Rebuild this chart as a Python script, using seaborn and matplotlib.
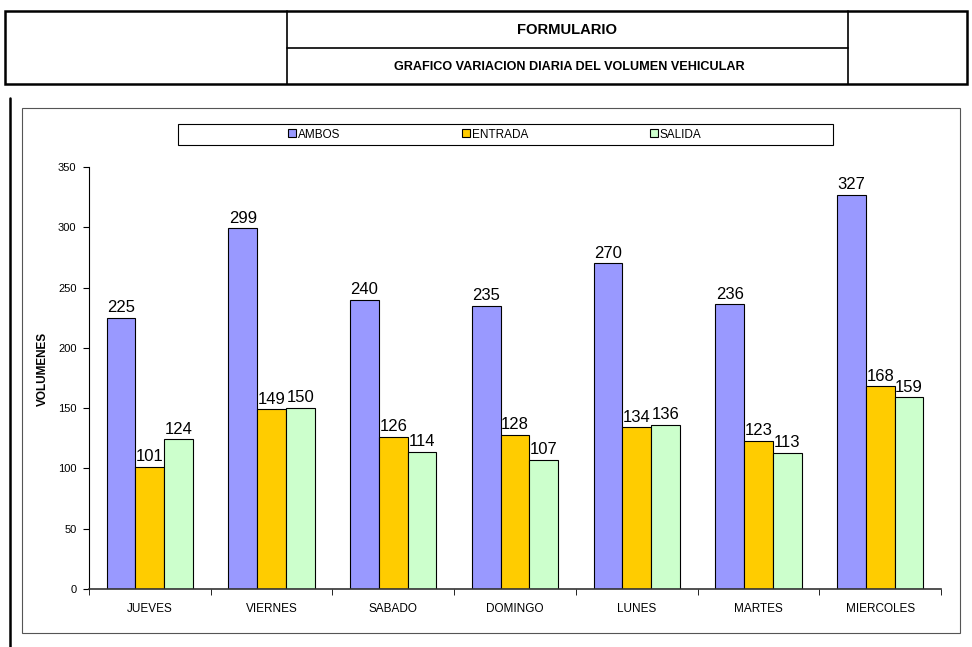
import pandas as pd
import matplotlib.pyplot as plt
import seaborn as sns
from matplotlib.patches import Rectangle, Patch
from matplotlib.lines import Line2D

# --- datos ---
dias = ['JUEVES', 'VIERNES', 'SABADO', 'DOMINGO', 'LUNES', 'MARTES', 'MIERCOLES']
ambos = [225, 299, 240, 235, 270, 236, 327]
entrada = [101, 149, 126, 128, 134, 123, 168]
salida = [124, 150, 114, 107, 136, 113, 159]
series = ['AMBOS', 'ENTRADA', 'SALIDA']
colores = ['#9999FF', '#FFCC00', '#CCFFCC']

df = pd.DataFrame({'dia': dias, 'AMBOS': ambos, 'ENTRADA': entrada, 'SALIDA': salida})
df_long = df.melt(id_vars='dia', var_name='tipo', value_name='volumen')

sns.set_style("white")
plt.rcParams['font.family'] = ['Liberation Sans', 'DejaVu Sans']
plt.rcParams['text.color'] = 'black'
plt.rcParams['axes.labelcolor'] = 'black'
plt.rcParams['xtick.color'] = 'black'
plt.rcParams['ytick.color'] = 'black'

W, H = 972, 647
fig = plt.figure(figsize=(W / 100, H / 100), dpi=100)


def fx(x):
    return x / W


def fy(y):
    return 1 - y / H


# --- encabezado (formulario) ---
fig.add_artist(Rectangle((fx(5), fy(84)), fx(962), (84 - 11) / H, fill=False,
                         edgecolor='black', linewidth=1.8, transform=fig.transFigure))
for xv in [287, 848]:
    fig.add_artist(Line2D([fx(xv), fx(xv)], [fy(11), fy(84)], color='black', linewidth=1.2,
                          transform=fig.transFigure))
fig.add_artist(Line2D([fx(287), fx(848)], [fy(48), fy(48)], color='black', linewidth=1.2,
                      transform=fig.transFigure))
fig.text(fx(567), fy(30), 'FORMULARIO', ha='center', va='center', fontsize=10.6, fontweight='bold')
fig.text(fx(569), fy(67), 'GRAFICO VARIACION DIARIA DEL VOLUMEN VEHICULAR', ha='center',
         va='center', fontsize=9.1, fontweight='bold')

# linea vertical izquierda y marco del grafico
fig.add_artist(Line2D([fx(10), fx(10)], [fy(98), fy(647)], color='black', linewidth=1.8,
                      transform=fig.transFigure))
fig.add_artist(Rectangle((fx(22), fy(633)), (960 - 22) / W, (633 - 108) / H, fill=False,
                         edgecolor='#555555', linewidth=0.8, transform=fig.transFigure))

# --- grafico de barras ---
ax = fig.add_axes([fx(89), fy(589), (941 - 89) / W, (589 - 167) / H])
sns.barplot(data=df_long, x='dia', y='volumen', hue='tipo', hue_order=series,
            palette=colores, width=0.71, edgecolor='black', linewidth=0.8,
            saturation=1, ax=ax, legend=False)

for cont in ax.containers:
    ax.bar_label(cont, fontsize=12, padding=2, color='black')

ax.set_ylim(0, 350)
ax.set_xlim(-0.5, len(dias) - 0.5)
ax.set_yticks(range(0, 351, 50))
ax.set_xlabel('')
ax.set_ylabel('VOLUMENES', fontsize=8.5, fontweight='bold')
ax.yaxis.set_label_coords(-0.047, 0.521)
ax.tick_params(axis='y', labelsize=8, length=4, direction='out', left=True, pad=5)
ax.tick_params(axis='x', which='major', labelsize=8.5, length=0, pad=10)
ax.set_xticks([i - 0.5 for i in range(len(dias) + 1)], minor=True)
ax.tick_params(axis='x', which='minor', length=4, direction='out', bottom=True)
sns.despine(ax=ax)
ax.spines['left'].set_color('black')
ax.spines['bottom'].set_color('#333333')
ax.spines['left'].set_linewidth(0.8)
ax.spines['bottom'].set_linewidth(1.2)
ax.grid(False)

# --- leyenda ---
fig.add_artist(Rectangle((fx(178), fy(145)), (833 - 178) / W, (145 - 124) / H, fill=False,
                         edgecolor='black', linewidth=0.8, transform=fig.transFigure))
handles = [Patch(facecolor=c, edgecolor='black', linewidth=0.8) for c in colores]
fig.legend(handles, series, loc='center', bbox_to_anchor=(fx(495), fy(134.5)), ncol=3,
           frameon=False, fontsize=8.5, handlelength=0.65, handleheight=0.65,
           handletextpad=0.15, columnspacing=10.35, borderpad=0)

fig.savefig('out.png', dpi=100)
